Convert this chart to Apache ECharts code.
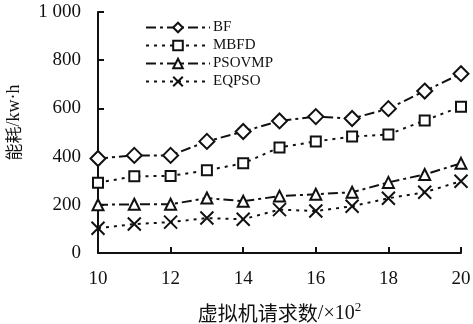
<!DOCTYPE html>
<html><head><meta charset="utf-8">
<script src="https://cdn.jsdelivr.net/npm/echarts@6/dist/echarts.min.js"></script>
<style>html,body{margin:0;padding:0;background:#fff}#c{width:473px;height:324px}</style>
</head><body><div id="c"></div>
<script>
const xValues = [10, 11, 12, 13, 14, 15, 16, 17, 18, 19, 20];
const bf = [392, 405, 405, 463, 504, 548, 566, 558, 599, 672, 744];
const mbfd = [292, 318, 320, 343, 372, 438, 463, 483, 492, 550, 607];
const psovmp = [200, 202, 202, 228, 215, 236, 244, 252, 293, 326, 372];
const eqpso = [103, 120, 128, 145, 140, 180, 174, 194, 227, 252, 298];
const seriesNames = ['BF', 'MBFD', 'PSOVMP', 'EQPSO'];
const yTicks = [0, 200, 400, 600, 800, 1000];

const serif = 'Liberation Serif, Times New Roman, serif';
const cjk = 'Noto Sans CJK SC';
const cross = 'path://M0,0L10,10M10,0L0,10';
function pairs(arr){ return xValues.map((x,i)=>[x, arr[i]]); }
function mk(name, data, symbol, size, dash){
  return {
    name, type:'line', data: pairs(data), symbol, symbolSize: size,
    showSymbol:true,
    lineStyle:{color:'#111', width:2, type: dash},
    itemStyle:{color:'#fff', borderColor:'#111', borderWidth:2},
    emphasis:{disabled:true}, animation:false
  };
}
const longDash = [10,4,3,4];
const shortDash = [3,5];
const chart = echarts.init(document.getElementById('c'));
chart.setOption({
  animation:false,
  grid:{left:98, right:12, top:12, bottom:71, containLabel:false, outerBoundsMode:'none'},
  legend:{
    left:140, top:15, orient:'vertical', itemGap:3,
    itemWidth:64, itemHeight:12,
    textStyle:{fontFamily:serif, fontSize:15, color:'#111', padding:[0,0,0,-2]},
    data: seriesNames
  },
  xAxis:{
    type:'value', min:10, max:20, interval:2,
    axisLine:{lineStyle:{color:'#111', width:2}},
    axisTick:{inside:true, length:6, lineStyle:{color:'#111', width:2}},
    axisLabel:{fontFamily:serif, fontSize:19, color:'#111', margin:17},
    splitLine:{show:false},
    name:'{a|虚拟机请求数}{b|/×10}{s|2}', nameLocation:'middle', nameGap:48,
    nameTextStyle:{rich:{
      a:{fontFamily:cjk, fontSize:20, color:'#111'},
      b:{fontFamily:serif, fontSize:20, color:'#111'},
      s:{fontFamily:serif, fontSize:13, color:'#111', verticalAlign:'top', padding:[0,0,12,0]}
    }}
  },
  yAxis:{
    type:'value', min:0, max:1000, interval:200,
    axisLine:{show:true, lineStyle:{color:'#111', width:2}},
    axisTick:{show:true, inside:true, length:6, lineStyle:{color:'#111', width:2}},
    axisLabel:{fontFamily:serif, fontSize:19, color:'#111', margin:17,
      formatter: v => v === 1000 ? '1 000' : String(v)},
    splitLine:{show:false},
    name:'{a|能耗}{b|/kw·h}', nameLocation:'middle', nameGap:75, nameRotate:90,
    nameTextStyle:{padding:[0,0,0,20], rich:{
      a:{fontFamily:cjk, fontSize:17, color:'#111'},
      b:{fontFamily:serif, fontSize:18, color:'#111'}
    }}
  },
  series:[
    mk('BF', bf, 'diamond', 15, longDash),
    mk('MBFD', mbfd, 'rect', 10, shortDash),
    mk('PSOVMP', psovmp, 'triangle', 11, longDash),
    Object.assign(mk('EQPSO', eqpso, cross, 13, shortDash), {itemStyle:{color:'none', borderColor:'#111', borderWidth:2}})
  ]
});
</script></body></html>
